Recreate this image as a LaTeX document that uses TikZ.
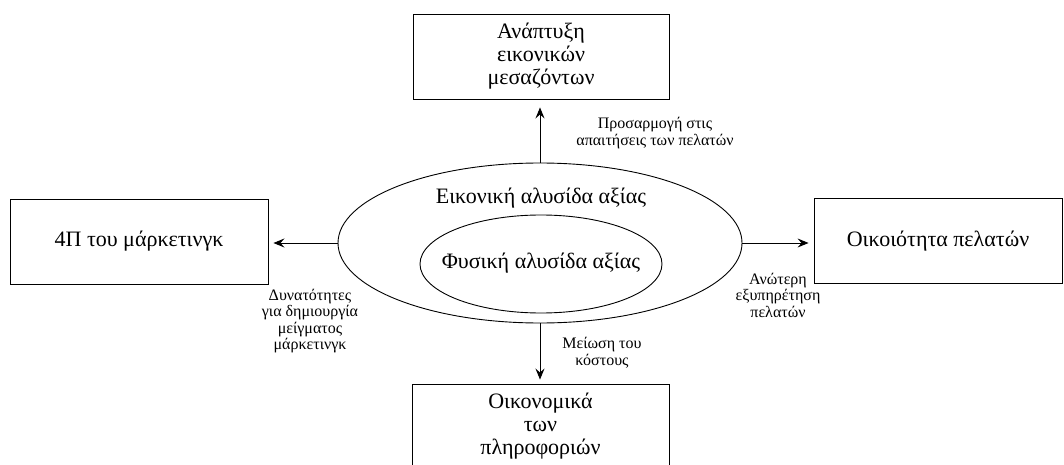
\documentclass[tikz,border=0pt]{standalone}
\usepackage{fontspec}
\setmainfont{Liberation Serif}
\usetikzlibrary{shapes.geometric,arrows.meta}
\tikzset{
  box/.style={draw, line width=0.9pt, minimum width=#1, minimum height=85pt, inner sep=0pt, align=center,
    font=\fontsize{22}{23}\selectfont},
  oval/.style={draw, ellipse, line width=0.9pt, inner sep=0pt},
  lbl/.style={align=center, font=\fontsize{16}{16.5}\selectfont, inner sep=0pt},
  big/.style={font=\fontsize{22}{23}\selectfont, inner sep=0pt},
  conn/.style={line width=0.9pt, -{Stealth[length=11pt,width=9pt,inset=4pt]}, shorten >=5pt}
}
\begin{document}
\begin{tikzpicture}[x=1pt,y=-1pt]
\useasboundingbox (0,0) rectangle (1064,465);
% boxes
\node[box=256pt] (top) at (541,56.5) {Ανάπτυξη\\εικονικών\\μεσαζόντων};
\node[box=258pt] (left) at (139,241.5) {4Π του μάρκετινγκ};
\node[box=248pt] (right) at (938,241) {Οικοιότητα πελατών};
\node[box=257pt] (bottom) at (540.5,426.5) {Οικονομικά\\των\\πληροφοριών};
% ellipses
\node[oval, minimum width=404pt, minimum height=160pt] (outer) at (540,243) {};
\node[oval, minimum width=242pt, minimum height=98pt] (inner) at (541,264) {};
\node[big] (outt) at (541,198) {Εικονική αλυσίδα αξίας};
\node[big] (innt) at (541,263) {Φυσική αλυσίδα αξίας};
% connectors
\draw[conn, shorten >=8pt] (outer.north) -- (outer.north |- top.south);
\draw[conn] (outer.west) -- (left.east |- outer.west);
\draw[conn] (outer.east) -- (right.west |- outer.east);
\draw[conn, shorten >=4pt] (outer.south) -- (outer.south |- bottom.north);
% labels
\node[lbl] (ltop) at (655,133) {Προσαρμογή στις\\απαιτήσεις των πελατών};
\node[lbl] (lleft) at (310,321) {Δυνατότητες\\για δημιουργία\\μείγματος\\μάρκετινγκ};
\node[lbl] (lright) at (778,295) {Ανώτερη\\εξυπηρέτηση\\πελατών};
\node[lbl] (lbottom) at (602,353) {Μείωση του\\κόστους};
\end{tikzpicture}
\end{document}
